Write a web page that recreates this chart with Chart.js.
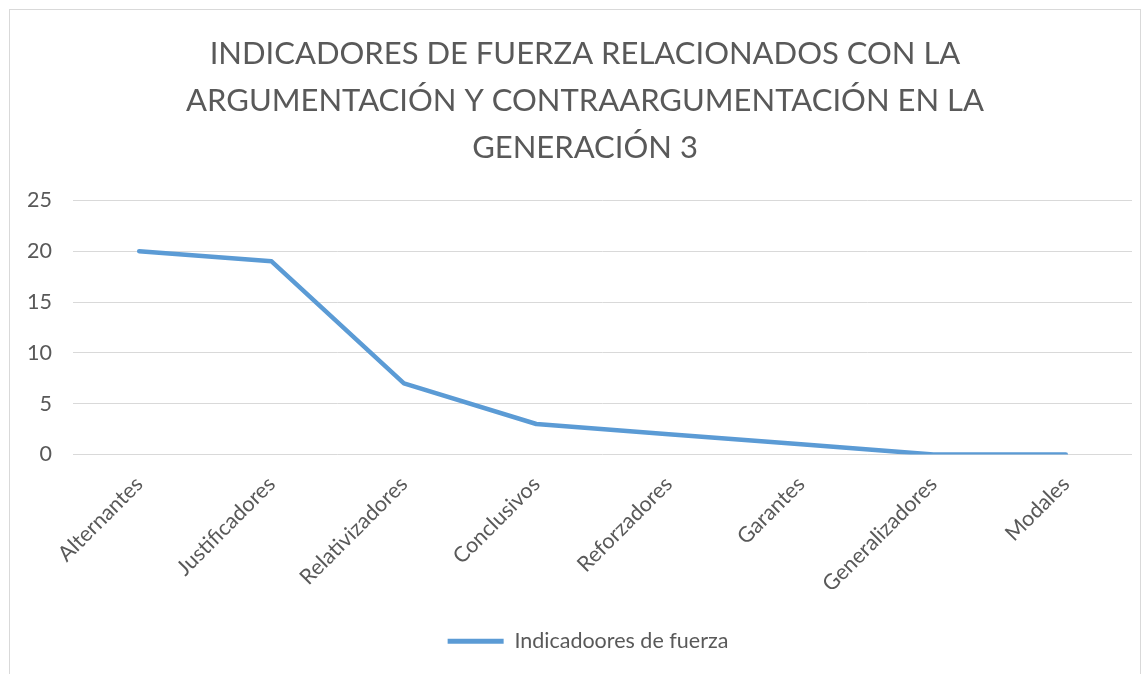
<!DOCTYPE html>
<html>
<head>
<meta charset="utf-8">
<script src="https://cdn.jsdelivr.net/npm/chart.js@4.4.0/dist/chart.umd.min.js"></script>
<style>
html,body{margin:0;padding:0;background:#fff;}
#wrap{position:absolute;left:0;top:0;width:1148px;height:674px;}
</style>
</head>
<body>
<div id="wrap"><canvas id="c" width="1148" height="674"></canvas></div>
<script>
const categories = ["Alternantes","Justificadores","Relativizadores","Conclusivos","Reforzadores","Garantes","Generalizadores","Modales"];
const seriesName = "Indicadoores de fuerza";
const seriesValues = [20, 19, 7, 3, 2, 1, 0, 0];
const titleLines = ["INDICADORES DE FUERZA RELACIONADOS CON LA","ARGUMENTACIÓN Y CONTRAARGUMENTACIÓN EN LA","GENERACIÓN 3"];
const yTicks = [0, 5, 10, 15, 20, 25];

const FONT = "Lato, 'Open Sans', sans-serif";
const GREY = "#595959";
const BLUE = "#5B9BD5";

const borderPlugin = {
  id: 'outerBorder',
  beforeDraw(chart) {
    const ctx = chart.ctx;
    ctx.save();
    ctx.fillStyle = '#fff';
    ctx.fillRect(0, 0, chart.width, chart.height);
    ctx.strokeStyle = '#d9d9d9';
    ctx.lineWidth = 1;
    ctx.strokeRect(9.5, 9.5, 1131, 700);
    ctx.restore();
  },
  afterLayout(chart) {
    // Centre title and legend over the outer frame like the original chart
    if (chart.titleBlock) { chart.titleBlock.left += 19; chart.titleBlock.right += 19; }
    if (chart.legend) { chart.legend.left += 22; chart.legend.right += 22; }
  }
};

new Chart(document.getElementById('c'), {
  type: 'line',
  data: {
    labels: categories,
    datasets: [{
      label: seriesName,
      data: seriesValues,
      borderColor: BLUE,
      backgroundColor: BLUE,
      borderWidth: 4.5,
      tension: 0,
      pointRadius: 0,
      pointHoverRadius: 0,
      borderCapStyle: 'round',
      borderJoinStyle: 'round',
      fill: false
    }]
  },
  options: {
    responsive: false,
    animation: false,
    devicePixelRatio: 1,
    layout: { padding: { left: 0, right: 16, top: 0, bottom: 12 } },
    plugins: {
      tooltip: { enabled: false },
      title: {
        display: true,
        text: titleLines,
        color: GREY,
        font: { family: FONT, size: 31, weight: 'normal', lineHeight: 1.52 },
        padding: { top: 30, bottom: 29 }
      },
      legend: {
        display: true,
        position: 'bottom',
        labels: {
          color: GREY,
          font: { family: FONT, size: 21.5 },
          boxWidth: 56,
          boxHeight: 5,
          padding: 10,
          generateLabels(chart) {
            const items = Chart.defaults.plugins.legend.labels.generateLabels(chart);
            items.forEach(i => { i.lineWidth = 0; i.fillStyle = BLUE; });
            return items;
          }
        }
      }
    },
    scales: {
      x: {
        offset: true,
        grid: { display: false, drawTicks: false },
        border: { display: false },
        ticks: {
          color: GREY,
          font: { family: FONT, size: 21.5 },
          maxRotation: 45,
          minRotation: 45,
          padding: 17,
          autoSkip: false
        },
        afterFit(s) { s.height = 166; }
      },
      y: {
        min: 0,
        max: 25,
        grid: { color: '#d9d9d9', lineWidth: 1, drawTicks: false },
        border: { display: false },
        ticks: {
          color: GREY,
          font: { family: FONT, size: 21.5 },
          stepSize: 5,
          padding: 21,
          callback: (v) => yTicks.includes(v) ? String(v) : ''
        },
        afterFit(s) { s.width = 73; }
      }
    }
  },
  plugins: [borderPlugin]
});
</script>
</body>
</html>
